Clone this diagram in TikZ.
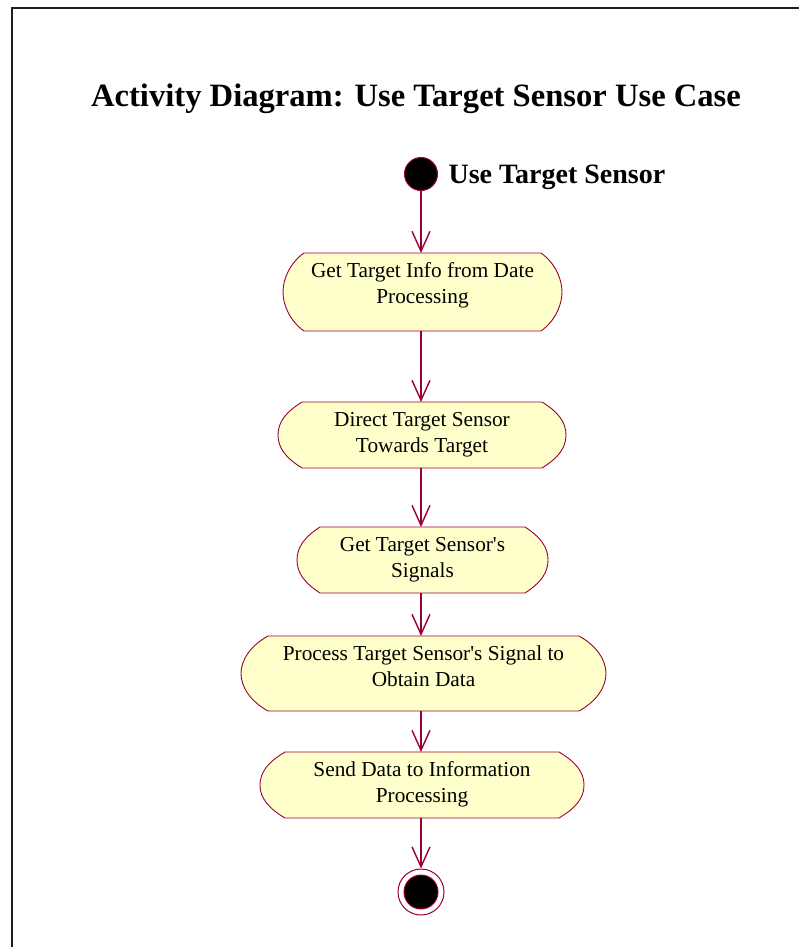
\documentclass[tikz,border=0pt]{standalone}
\usepackage{fontspec}
\setmainfont{Liberation Serif}[Ligatures=TeXOff]
\usetikzlibrary{arrows.meta,calc,backgrounds}

\definecolor{umlline}{RGB}{153,0,51}
\definecolor{actfill}{RGB}{255,255,204}
\definecolor{framegray}{RGB}{30,30,30}

\tikzset{
  actnode/.style={rectangle, inner sep=0pt, outer sep=0pt, font=\fontsize{21.3}{26}\selectfont},
  actline/.style={draw=umlline, line width=0.9pt, fill=actfill},
  flow/.style={draw=umlline, line width=1.4pt, -{Straight Barb[length=20pt,width=18pt,line width=1.4pt]}},
  startdot/.style={circle, fill=black, draw=umlline, line width=1pt, minimum size=33pt, inner sep=0pt},
  endring/.style={circle, fill=white, draw=umlline, line width=1pt, minimum size=46pt, inner sep=0pt},
  enddot/.style={circle, fill=black, draw=umlline, line width=1pt, minimum size=34pt, inner sep=0pt},
}

% activity state: name, left, top, right, bottom, corner inset, text
\newcommand\actstate[7]{%
  \pgfmathsetmacro\acx{(#2+#4)/2}%
  \pgfmathsetmacro\acy{(#3+#5)/2}%
  \pgfmathsetmacro\abw{#4-#2}%
  \pgfmathsetmacro\abh{#5-#3}%
  \node[actnode, minimum width=\abw pt, minimum height=\abh pt] (#1) at (\acx,\acy)
    {\parbox[c][\abh pt][t]{\abw pt}{\centering\rule{0pt}{24.5pt}#7}};
  \begin{scope}[on background layer]
    \path[actline]
      ($(#1.north west)+(#6,0)$) -- ($(#1.north east)+(-#6,0)$)
      .. controls ($(#1.north east)+(-0.33*#6,10)$) and ($(#1.east)+(0,-13)$) .. (#1.east)
      .. controls ($(#1.east)+(0,13)$) and ($(#1.south east)+(-0.33*#6,-10)$) .. ($(#1.south east)+(-#6,0)$)
      -- ($(#1.south west)+(#6,0)$)
      .. controls ($(#1.south west)+(0.33*#6,-10)$) and ($(#1.west)+(0,13)$) .. (#1.west)
      .. controls ($(#1.west)+(0,-13)$) and ($(#1.north west)+(0.33*#6,10)$) .. cycle;
  \end{scope}
}

\begin{document}
\begin{tikzpicture}[x=1pt,y=-1pt]
  \useasboundingbox (0,0) rectangle (799,947);

  % outer frame, running off the page at right and bottom
  \draw[framegray, line width=2pt] (12,947) -- (12,8) -- (799,8);

  \node[font=\fontsize{32.6}{38}\selectfont\bfseries, anchor=base] (title) at (416,107)
    {Activity Diagram: Use Target Sensor Use Case};

  \node[startdot] (start) at (421,174) {};
  \node[font=\fontsize{28}{32}\selectfont\bfseries, anchor=base west] (startlbl) at (445,183)
    {Use Target Sensor};

  \actstate{a1}{283}{253}{562}{331}{21}{Get Target Info from Date\\Processing}
  \actstate{a2}{278}{402}{566}{468}{24}{Direct Target Sensor\\Towards Target}
  \actstate{a3}{297}{527}{548}{593}{23}{Get Target Sensor's\\Signals}
  \actstate{a4}{241}{636}{606}{711}{27}{Process Target Sensor's Signal to\\Obtain Data}
  \actstate{a5}{260}{752}{584}{818}{25}{Send Data to Information\\Processing}

  \node[endring] (final) at (421,892) {};
  \node[enddot] (finaldot) at (final.center) {};

  \draw[flow] (start.south) -- (start.south |- a1.north);
  \draw[flow] (a1.south -| start) -- (start |- a2.north);
  \draw[flow] (a2.south -| start) -- (start |- a3.north);
  \draw[flow] (a3.south -| start) -- (start |- a4.north);
  \draw[flow] (a4.south -| start) -- (start |- a5.north);
  \draw[flow] (a5.south -| start) -- (final.north);
\end{tikzpicture}
\end{document}
